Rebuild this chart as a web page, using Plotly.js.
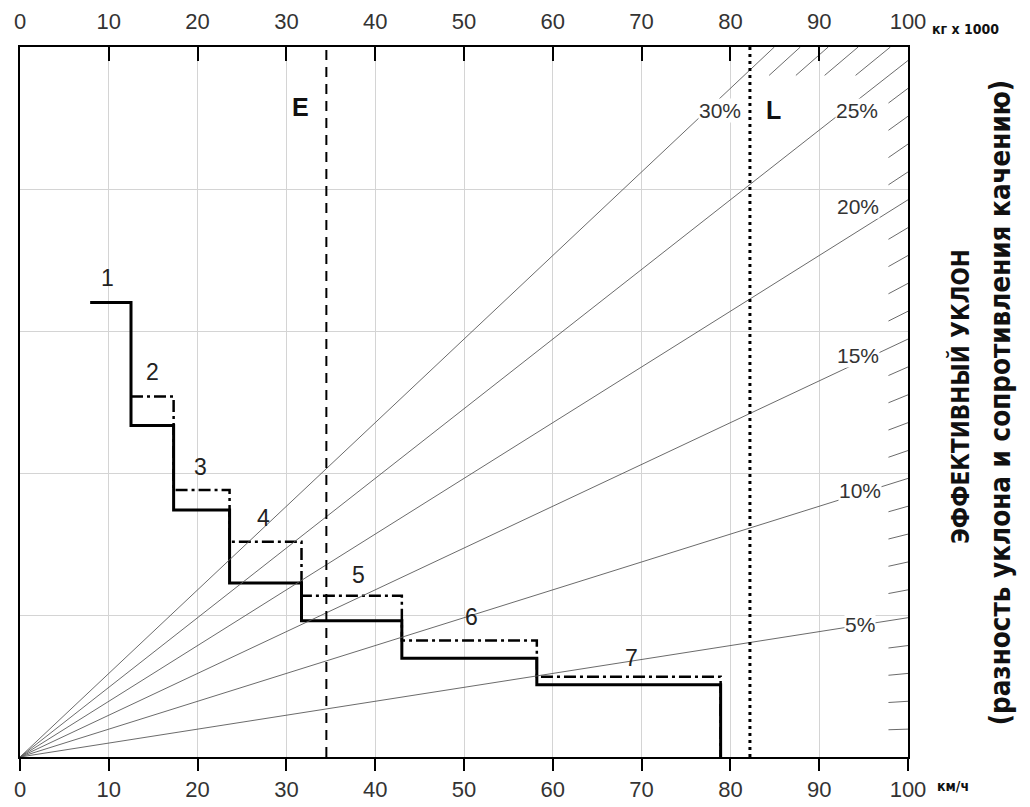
<!DOCTYPE html>
<html>
<head>
<meta charset="utf-8">
<script src="https://cdn.plot.ly/plotly-3.0.1.min.js"></script>
<style>html,body{margin:0;padding:0;background:#fff;}#chart{width:1030px;height:807px;}</style>
</head>
<body>
<div id="chart"></div>
<script>
// ---- data ----
const gearLabels = ['1', '2', '3', '4', '5', '6', '7'];
// speed (km/h) where each gear segment starts; last value = end of gear 7
const shiftSpeeds = [7.9, 12.5, 17.3, 23.6, 31.7, 43.0, 58.2, 78.9];
// rimpull (kN) of each gear, solid curve
const rimpullSolid = [160, 116.7, 87, 61.3, 48, 34.8, 25.4];
// rimpull (kN) of each gear, dash-dot curve (gear 2..7)
const rimpullDashDot = [126.9, 94, 75.8, 56.8, 41, 28.3];
// grade lines (%)
const gradeLines = [5, 10, 15, 20, 25, 30];
const gradeTickGrades = [1,2,3,4,6,7,8,9,11,12,13,14,16,17,18,19,21,22,23,24];
const gradeTopGrades = [26, 27, 28, 29];
// weight markers (t)
const markerNames = ['E', 'L'];
const markerWeights = [34.5, 82.2];
const xTicks = [0,10,20,30,40,50,60,70,80,90,100];

const G = 9.81;      // kN per tonne per unit grade
const YMAX = 250;    // kN

const traces = [];
const lineCol = '#5a5a5a';

gradeLines.forEach(g => {
  const wEnd = Math.min(100, YMAX / (G * g / 100));
  traces.push({x: [0, wEnd], y: [0, wEnd * G * g / 100], xaxis: 'x2', yaxis: 'y',
    mode: 'lines', line: {color: lineCol, width: 0.9}, hoverinfo: 'skip', showlegend: false});
});
gradeTickGrades.forEach(g => {
  traces.push({x: [97.8, 100], y: [97.8 * G * g / 100, 100 * G * g / 100], xaxis: 'x2', yaxis: 'y',
    mode: 'lines', line: {color: lineCol, width: 0.9}, hoverinfo: 'skip', showlegend: false});
});
gradeTopGrades.forEach(g => {
  const k = G * g / 100;
  traces.push({x: [240 / k, YMAX / k], y: [240, YMAX], xaxis: 'x2', yaxis: 'y',
    mode: 'lines', line: {color: lineCol, width: 0.9}, hoverinfo: 'skip', showlegend: false});
});

markerWeights.forEach((w, i) => {
  traces.push({x: [w, w], y: [0, YMAX], xaxis: 'x2', yaxis: 'y', mode: 'lines',
    line: {color: '#000', width: i === 0 ? 2 : 3, dash: i === 0 ? '10px,7px' : '3px,4px'},
    hoverinfo: 'skip', showlegend: false});
});

const ddX = shiftSpeeds.slice(1, 7).concat([shiftSpeeds[7]]);
const ddY = rimpullDashDot.concat([0]);
traces.push({x: ddX, y: ddY, xaxis: 'x', yaxis: 'y', mode: 'lines',
  line: {color: '#000', width: 2.5, shape: 'hv', dash: '12px,4px,3px,4px'}, hoverinfo: 'skip', showlegend: false});

const sX = shiftSpeeds.slice(0, 7).concat([shiftSpeeds[7]]);
const sY = rimpullSolid.concat([0]);
traces.push({x: sX, y: sY, xaxis: 'x', yaxis: 'y', mode: 'lines',
  line: {color: '#000', width: 3, shape: 'hv'}, hoverinfo: 'skip', showlegend: false});

const tickFont = {family: 'Liberation Sans, Arial, sans-serif', size: 22, color: '#333'};
const narrow = 'DejaVu Sans Condensed, Liberation Sans Narrow, sans-serif';

const annotations = [];
const gearLabelPos = [[9.9, 168.7], [14.9, 135.6], [20.3, 102], [27.4, 84.2], [38.1, 64], [50.9, 49.3], [68.9, 34.9]];
gearLabels.forEach((t, i) => annotations.push({x: gearLabelPos[i][0], y: gearLabelPos[i][1], xref: 'x', yref: 'y',
  text: t, showarrow: false, font: {family: 'Liberation Sans, Arial, sans-serif', size: 23, color: '#222'}}));
const gradeLabelPos = [[94.6, 46.5], [94.6, 94], [94.4, 141.5], [94.4, 193.7], [94.3, 227.8], [78.8, 227.8]];
gradeLines.forEach((g, i) => annotations.push({x: gradeLabelPos[i][0], y: gradeLabelPos[i][1], xref: 'x2', yref: 'y',
  text: g + '%', showarrow: false, bgcolor: '#fff', borderpad: 0,
  font: {family: 'Liberation Sans, Arial, sans-serif', size: 21, color: '#333'}}));
const markerLabelPos = [[31.6, 229], [84.9, 227.8]];
markerNames.forEach((n, i) => annotations.push({x: markerLabelPos[i][0], y: markerLabelPos[i][1], xref: 'x2', yref: 'y',
  text: '<b>' + n + '</b>', showarrow: false, font: {family: 'Liberation Sans, Arial, sans-serif', size: 25, color: '#111'}}));
annotations.push({x: 1.0248, y: 1.04, xref: 'paper', yref: 'paper', xanchor: 'left', text: '<b>кг x 1000</b>', showarrow: false,
  font: {family: narrow, size: 14, color: '#111'}});
annotations.push({x: 1.0304, y: -0.055, xref: 'paper', yref: 'paper', xanchor: 'left', text: '<b>км/ч</b>', showarrow: false,
  font: {family: narrow, size: 14, color: '#111'}});
annotations.push({x: 1.0586, y: 0.507, xref: 'paper', yref: 'paper', xanchor: 'center', text: '<b>ЭФФЕКТИВНЫЙ УКЛОН</b>', showarrow: false,
  textangle: -90, font: {family: narrow, size: 24, color: '#111'}});
annotations.push({x: 1.104, y: 0.5, xref: 'paper', yref: 'paper', xanchor: 'center', text: '<b>(разность уклона и сопротивления качению)</b>', showarrow: false,
  textangle: -90, font: {family: narrow, size: 27.5, color: '#111'}});

const layout = {
  width: 1030, height: 807,
  margin: {l: 20, r: 122, t: 47, b: 50},
  paper_bgcolor: '#fff', plot_bgcolor: '#fff',
  showlegend: false,
  xaxis: {range: [0, 100], tickvals: xTicks, ticktext: xTicks.map(String), ticks: 'outside', ticklen: 12, tickwidth: 2,
    tickcolor: '#000', showline: true, linecolor: '#000', linewidth: 2, showgrid: true, gridcolor: '#d4d4d4', gridwidth: 1,
    zeroline: false, tickfont: tickFont, fixedrange: true},
  xaxis2: {range: [0, 100], overlaying: 'x', side: 'top', tickvals: xTicks, ticktext: xTicks.map(String), ticks: 'inside',
    ticklen: 14, tickwidth: 2, tickcolor: '#000', showline: true, linecolor: '#000', linewidth: 2, showgrid: false,
    zeroline: false, tickfont: tickFont, fixedrange: true, ticklabelstandoff: 7},
  yaxis: {range: [0, YMAX], dtick: 50, showticklabels: false, ticks: '', showline: true, mirror: true,
    linecolor: '#000', linewidth: 2, showgrid: true, gridcolor: '#d4d4d4', gridwidth: 1, zeroline: false, fixedrange: true},
  annotations: annotations
};

Plotly.newPlot('chart', traces, layout, {staticPlot: true, displayModeBar: false});
</script>
</body>
</html>
